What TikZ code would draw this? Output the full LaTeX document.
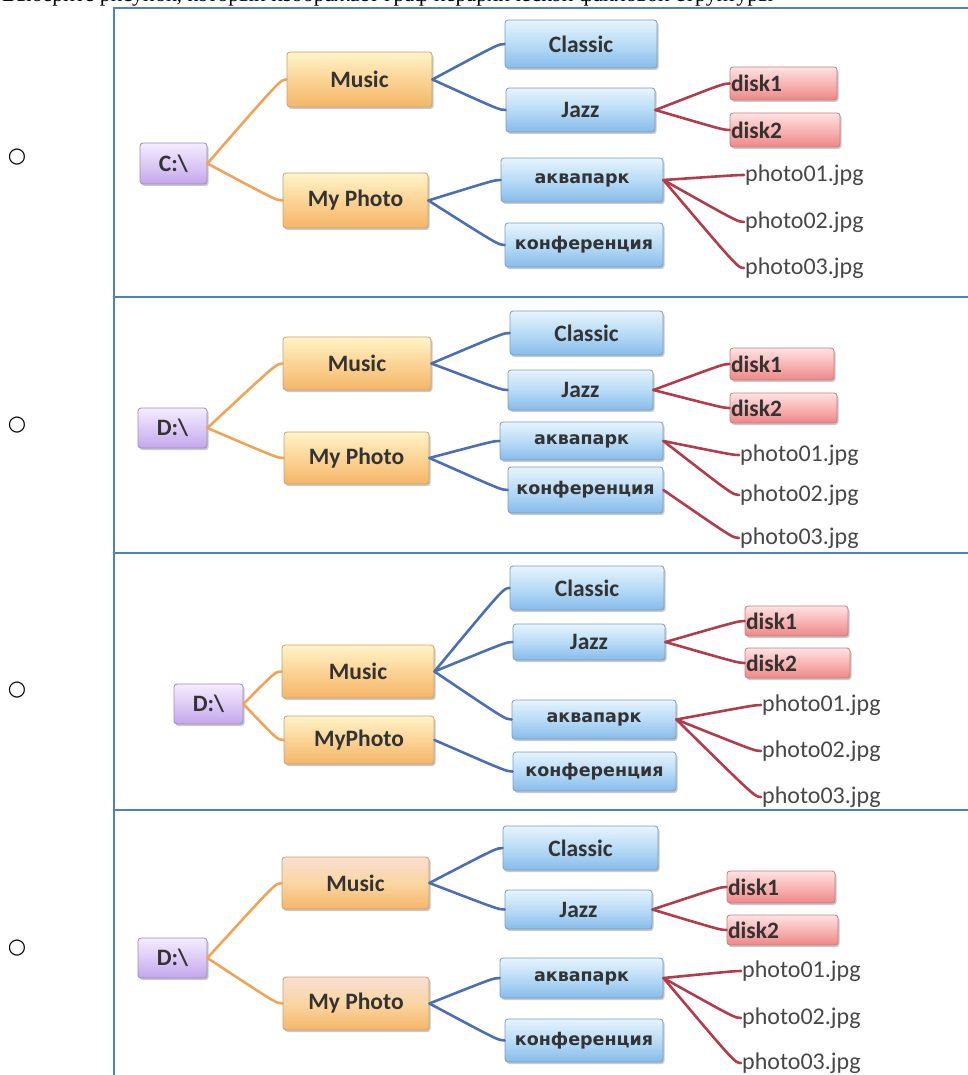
\documentclass[tikz,border=0pt]{standalone}
\usepackage{fontspec}
\setmainfont{Liberation Serif}
\newfontfamily\labfont{Carlito}
\newfontfamily\cyrfont{DejaVu Sans}
\newfontfamily\symfont{DejaVu Sans}
\usetikzlibrary{shadows,calc}

\definecolor{framec}{HTML}{4F81BD}
\definecolor{textc}{HTML}{333333}
\definecolor{otop}{HTML}{FFF4C8}
\definecolor{omid}{HTML}{FBD496}
\definecolor{obot}{HTML}{F5B567}
\definecolor{otopb}{HTML}{F8DED2}
\definecolor{oborder}{HTML}{C9A070}
\definecolor{btop}{HTML}{E6F4FD}
\definecolor{bmid}{HTML}{B9DCF6}
\definecolor{bbot}{HTML}{86BBEB}
\definecolor{bborder}{HTML}{7C9CC0}
\definecolor{rtop}{HTML}{FFE2E2}
\definecolor{rmid}{HTML}{F9B5B5}
\definecolor{rbot}{HTML}{EE8787}
\definecolor{rborder}{HTML}{C08080}
\definecolor{ptop}{HTML}{F4ECFF}
\definecolor{pmid}{HTML}{DDCBF6}
\definecolor{pbot}{HTML}{C3A6EC}
\definecolor{pborder}{HTML}{9C8CB8}
\definecolor{ocon}{HTML}{F0A458}
\definecolor{bcon}{HTML}{4A6FB3}
\definecolor{rcon}{HTML}{B23B4C}

\tikzset{
  box/.style={draw=#1, rounded corners=3pt, inner sep=0pt, line width=0.8pt,
    drop shadow={shadow xshift=1.5pt, shadow yshift=-2pt, opacity=0.3, fill=black!70},
    text=textc},
  latinlab/.style={font=\labfont\bfseries\fontsize{23.5}{23.5}\selectfont},
  cyrlab/.style={font=\cyrfont\bfseries\fontsize{17.5}{17.5}\selectfont},
  obox/.style={box=oborder, top color=otop, bottom color=obot, middle color=omid, latinlab},
  oboxb/.style={box=oborder, top color=otopb, bottom color=obot, middle color=omid!80!otopb, latinlab},
  bbox/.style={box=bborder, top color=btop, bottom color=bbot, middle color=bmid, latinlab},
  bboxc/.style={box=bborder, top color=btop, bottom color=bbot, middle color=bmid, cyrlab},
  rbox/.style={box=rborder, top color=rtop, bottom color=rbot, middle color=rmid, latinlab,
    inner xsep=1pt, align=left},
  pbox/.style={box=pborder, top color=ptop, bottom color=pbot, middle color=pmid, latinlab},
  ftxt/.style={anchor=west, inner sep=1pt, text=textc!90, font=\labfont\fontsize{24}{24}\selectfont},
  frame/.style={draw=framec, line width=2pt},
  ocn/.style={draw=ocon, line width=2.6pt, line cap=round},
  bcn/.style={draw=bcon, line width=2.6pt, line cap=round},
  rcn/.style={draw=rcon, line width=2.6pt, line cap=round},
  bullet/.style={font=\symfont\fontsize{21}{21}\selectfont, inner sep=0pt}
}

\newcommand\mybox[7]{\node[#2, minimum width={(#4-#3)*1pt}, minimum height={(#6-#5)*1pt}] (#1) at ({(#3+#4)/2},{(#5+#6)/2}) {#7};}
\newcommand\mydisk[7]{\node[#2, text width={(#4-#3-2)*1pt}, minimum height={(#6-#5)*1pt}] (#1) at ({(#3+#4)/2},{(#5+#6)/2}) {#7};}
\newcommand\myconn[3]{\draw[#1] (#2.east) .. controls ($(#3.west)+(-6,0)$) .. (#3.west);}

\begin{document}
\begin{tikzpicture}[x=1pt,y=-1pt]
\useasboundingbox (0,0) rectangle (968,1075);
\begin{scope}
\clip (0,0) rectangle (968,1075);

% question text (cut off at the top, as in the reference)
\node[anchor=base west, inner sep=0pt, font=\fontsize{22}{22}\selectfont] (qtext) at (2,1.2)
  {Выберите рисунок, который изображает граф иерархической файловой структуры};

% bullets
\node[bullet] (ra) at (17,157) {○};
\node[bullet] (rb) at (17,425) {○};
\node[bullet] (rc) at (17,690) {○};
\node[bullet] (rd) at (17,948) {○};

% frame
\draw[frame] (113,8) -- (968,8);
\draw[frame] (113,297) -- (968,297);
\draw[frame] (113,553) -- (968,553);
\draw[frame] (113,810) -- (968,810);
\draw[frame] (113.5,7) -- (113.5,1075);

% ---------------- panel 1 ----------------
\mybox{aroot}{pbox}{140}{207}{143}{184}{C:\textbackslash}
\mybox{amusic}{obox}{287}{432}{52}{107}{Music}
\mybox{aphoto}{obox}{283}{428}{173}{228}{My Photo}
\mybox{aclassic}{bbox}{505}{657}{20}{68}{Classic}
\mybox{ajazz}{bbox}{506}{655}{88}{132}{Jazz}
\mybox{aaqua}{bboxc}{501}{663}{158}{202}{аквапарк}
\mybox{aconf}{bboxc}{505}{663}{223}{267}{конференция}
\mydisk{adA}{rbox}{730}{837}{67}{100}{disk1}
\mydisk{adB}{rbox}{730}{840}{113}{147}{disk2}
\node[ftxt] (apA) at (744,175) {photo01.jpg};
\node[ftxt] (apB) at (744,222) {photo02.jpg};
\node[ftxt] (apC) at (744,268) {photo03.jpg};

% ---------------- panel 2 ----------------
\mybox{broot}{pbox}{138}{207}{408}{448}{D:\textbackslash}
\mybox{bmusic}{obox}{283}{431}{337}{390}{Music}
\mybox{bphoto}{obox}{284}{429}{432}{484}{My Photo}
\mybox{bclassic}{bbox}{510}{663}{311}{355}{Classic}
\mybox{bjazz}{bbox}{508}{653}{370}{410}{Jazz}
\mybox{baqua}{bboxc}{500}{663}{422}{460}{аквапарк}
\mybox{bconf}{bboxc}{508}{663}{467}{513}{конференция}
\mydisk{bdA}{rbox}{730}{834}{348}{380}{disk1}
\mydisk{bdB}{rbox}{730}{837}{393}{423}{disk2}
\node[ftxt] (bpA) at (739,455) {photo01.jpg};
\node[ftxt] (bpB) at (739,495) {photo02.jpg};
\node[ftxt] (bpC) at (739,538) {photo03.jpg};

% ---------------- panel 3 ----------------
\mybox{croot}{pbox}{174}{243}{684}{724}{D:\textbackslash}
\mybox{cmusic}{obox}{282}{434}{645}{698}{Music}
\mybox{cphoto}{obox}{284}{434}{716}{764}{MyPhoto}
\mybox{cclassic}{bbox}{510}{664}{566}{610}{Classic}
\mybox{cjazz}{bbox}{513}{665}{624}{660}{Jazz}
\mybox{caqua}{bboxc}{512}{676}{700}{739}{аквапарк}
\mybox{cconf}{bboxc}{513}{676}{752}{791}{конференция}
\mydisk{cdA}{rbox}{745}{848}{606}{636}{disk1}
\mydisk{cdB}{rbox}{745}{850}{648}{678}{disk2}
\node[ftxt] (cpA) at (761,705) {photo01.jpg};
\node[ftxt] (cpB) at (761,751) {photo02.jpg};
\node[ftxt] (cpC) at (761,797) {photo03.jpg};

% ---------------- panel 4 ----------------
\mybox{droot}{pbox}{138}{207}{938}{978}{D:\textbackslash}
\mybox{dmusic}{oboxb}{282}{429}{857}{909}{Music}
\mybox{dphoto}{oboxb}{283}{429}{977}{1030}{My Photo}
\mybox{dclassic}{bbox}{503}{658}{826}{870}{Classic}
\mybox{djazz}{bbox}{505}{652}{890}{929}{Jazz}
\mybox{daqua}{bboxc}{500}{663}{958}{998}{аквапарк}
\mybox{dconf}{bboxc}{505}{663}{1019}{1062}{конференция}
\mydisk{ddA}{rbox}{727}{835}{871}{903}{disk1}
\mydisk{ddB}{rbox}{727}{838}{915}{945}{disk2}
\node[ftxt] (dpA) at (741,971) {photo01.jpg};
\node[ftxt] (dpB) at (741,1018) {photo02.jpg};
\node[ftxt] (dpC) at (741,1063) {photo03.jpg};

% ---------------- connectors ----------------
\myconn{ocn}{aroot}{amusic}
\myconn{ocn}{aroot}{aphoto}
\myconn{bcn}{amusic}{aclassic}
\myconn{bcn}{amusic}{ajazz}
\myconn{bcn}{aphoto}{aaqua}
\myconn{bcn}{aphoto}{aconf}
\myconn{rcn}{ajazz}{adA}
\myconn{rcn}{ajazz}{adB}
\myconn{rcn}{aaqua}{apA}
\myconn{rcn}{aaqua}{apB}
\myconn{rcn}{aaqua}{apC}

\myconn{ocn}{broot}{bmusic}
\myconn{ocn}{broot}{bphoto}
\myconn{bcn}{bmusic}{bclassic}
\myconn{bcn}{bmusic}{bjazz}
\myconn{bcn}{bphoto}{baqua}
\myconn{bcn}{bphoto}{bconf}
\myconn{rcn}{bjazz}{bdA}
\myconn{rcn}{bjazz}{bdB}
\myconn{rcn}{baqua}{bpA}
\myconn{rcn}{baqua}{bpB}
\myconn{rcn}{bconf}{bpC}

\myconn{ocn}{croot}{cmusic}
\myconn{ocn}{croot}{cphoto}
\myconn{bcn}{cmusic}{cclassic}
\myconn{bcn}{cmusic}{cjazz}
\myconn{bcn}{cmusic}{caqua}
\myconn{bcn}{cphoto}{cconf}
\myconn{rcn}{cjazz}{cdA}
\myconn{rcn}{cjazz}{cdB}
\myconn{rcn}{caqua}{cpA}
\myconn{rcn}{caqua}{cpB}
\myconn{rcn}{caqua}{cpC}

\myconn{ocn}{droot}{dmusic}
\myconn{ocn}{droot}{dphoto}
\myconn{bcn}{dmusic}{dclassic}
\myconn{bcn}{dmusic}{djazz}
\myconn{bcn}{dphoto}{daqua}
\myconn{bcn}{dphoto}{dconf}
\myconn{rcn}{djazz}{ddA}
\myconn{rcn}{djazz}{ddB}
\myconn{rcn}{daqua}{dpA}
\myconn{rcn}{daqua}{dpB}
\myconn{rcn}{daqua}{dpC}
\end{scope}
\end{tikzpicture}
\end{document}
